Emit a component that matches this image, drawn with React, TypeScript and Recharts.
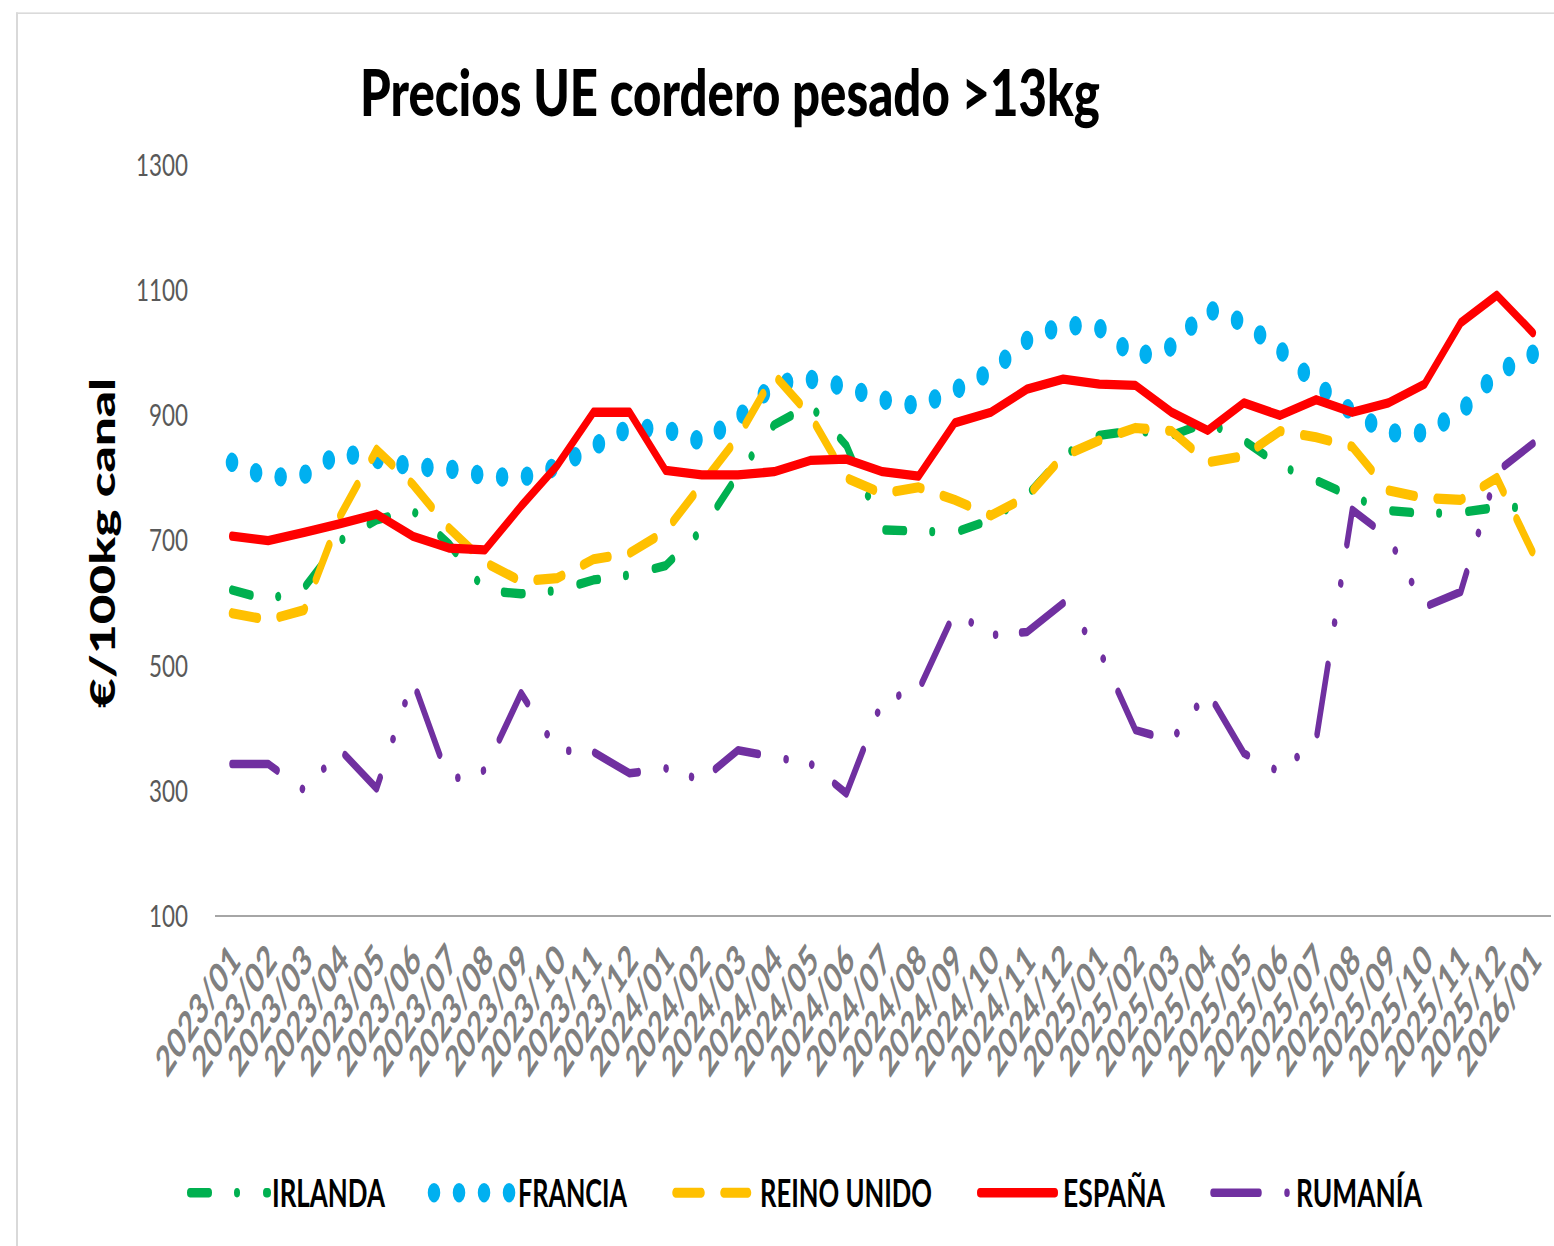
import React from 'react';
import { LineChart, Line, XAxis, YAxis } from 'recharts';

const MONTHS = [
  '2023/01', '2023/02', '2023/03', '2023/04', '2023/05', '2023/06', '2023/07', '2023/08', '2023/09', '2023/10', '2023/11', '2023/12',
  '2024/01', '2024/02', '2024/03', '2024/04', '2024/05', '2024/06', '2024/07', '2024/08', '2024/09', '2024/10', '2024/11', '2024/12',
  '2025/01', '2025/02', '2025/03', '2025/04', '2025/05', '2025/06', '2025/07', '2025/08', '2025/09', '2025/10', '2025/11', '2025/12',
  '2026/01',
];

const IRLANDA = [621, 605, 625, 700, 733, 748, 695, 620, 615, 620, 637, 645, 660, 717, 805, 885, 916, 852, 717, 715, 713, 733, 772, 836, 868, 876, 868, 889, 860, 820, 796, 770, 748, 743, 745, 753, 753];
const FRANCIA = [825, 800, 805, 840, 830, 818, 815, 803, 800, 818, 850, 880, 878, 858, 895, 950, 958, 945, 925, 915, 940, 970, 1020, 1045, 1040, 993, 1010, 1070, 1048, 1005, 950, 905, 872, 872, 905, 968, 998];
const REINO_UNIDO = [584, 573, 589, 740, 845, 790, 720, 665, 635, 640, 670, 680, 715, 790, 865, 965, 900, 800, 775, 785, 765, 740, 770, 835, 860, 880, 875, 825, 835, 875, 865, 850, 780, 768, 765, 800, 680];
const ESPANA = [707, 700, 713, 727, 742, 707, 688, 685, 755, 820, 905, 905, 812, 805, 805, 810, 828, 830, 810, 803, 888, 905, 942, 958, 950, 948, 905, 876, 920, 900, 925, 905, 920, 950, 1048, 1092, 1032];
const RUMANIA = [343, 343, 301, 365, 304, 477, 317, 333, 456, 365, 362, 328, 336, 317, 365, 354, 344, 296, 445, 461, 586, 549, 554, 600, 525, 397, 381, 458, 360, 330, 381, 749, 705, 594, 618, 810, 855];

const Y_TICKS = [100, 300, 500, 700, 900, 1100, 1300];

const TITLE = 'Precios UE cordero pesado >13kg';
const Y_LABEL = '€/100kg canal';

const SERIES = [
  { key: 'irlanda', name: 'IRLANDA', values: IRLANDA, color: '#00B050', width: 6, dash: '19 28 0.01 29' },
  { key: 'francia', name: 'FRANCIA', values: FRANCIA, color: '#00B0F0', width: 12.5, dash: '0.01 25' },
  { key: 'reino', name: 'REINO UNIDO', values: REINO_UNIDO, color: '#FFC000', width: 6.5, dash: '26 22' },
  { key: 'espana', name: 'ESPAÑA', values: ESPANA, color: '#FF0000', width: 6, dash: undefined as string | undefined },
  { key: 'rumania', name: 'RUMANÍA', values: RUMANIA, color: '#7030A0', width: 5.5, dash: '46 28 0.01 26 0.01 26' },
];

// legend layout (x positions in px): sample start, sample end, text start, text length
const LEGEND_LAYOUT = [
  { x1: 190, x2: 268, tx: 272, tl: 113 },
  { x1: 434, x2: 512, tx: 518, tl: 109 },
  { x1: 675.5, x2: 748, tx: 760, tl: 172 },
  { x1: 980, x2: 1055, tx: 1063, tl: 102 },
  { x1: 1213, x2: 1292, tx: 1296, tl: 126 },
];

const data = MONTHS.map((m, i) => {
  const row: Record<string, string | number> = { month: m };
  SERIES.forEach((s) => {
    row[s.key] = s.values[i];
  });
  return row;
});

const S = 1.55; // vertical stretch
const W = 1554;
const H = 1246 / S;
const FONT = 'Lato, "Open Sans", sans-serif';

const XTick = (props: any) => {
  const { x, y, payload } = props;
  return (
    <g transform={`translate(${x + 10},${y + 22})`}>
      <text
        transform="rotate(-45)"
        textAnchor="end"
        fontFamily={FONT}
        fontWeight={700}
        fontSize={27}
        fill="#808080"
        textLength={106}
        lengthAdjust="spacingAndGlyphs"
      >
        {payload.value}
      </text>
    </g>
  );
};

const YTick = (props: any) => {
  const { y, payload } = props;
  const s = String(payload.value);
  return (
    <text
      x={188}
      y={y}
      dy={7}
      textAnchor="end"
      fontFamily={FONT}
      fontSize={20}
      fill="#595959"
      textLength={s.length * 13}
      lengthAdjust="spacingAndGlyphs"
    >
      {s}
    </text>
  );
};

export default function App() {
  return (
    <div style={{ position: 'absolute', left: 0, top: 0, width: W, height: 1246, overflow: 'hidden', background: '#fff' }}>
      <div
        style={{
          position: 'absolute',
          left: 0,
          top: 0,
          width: W,
          height: H,
          transform: `scale(1, ${S})`,
          transformOrigin: '0 0',
        }}
      >
        <div
          style={{
            position: 'absolute',
            left: 16,
            top: 8.4,
            width: W - 16,
            height: H,
            borderTop: '1.4px solid #d9d9d9',
            borderLeft: '2px solid #d9d9d9',
            boxSizing: 'border-box',
          }}
        />
        <div style={{ position: 'absolute', left: 0, top: 0 }}>
          <LineChart width={W} height={H} data={data} margin={{ top: 106.5, right: 3, left: 0, bottom: H - 591 - 60 }}>
            <XAxis
              dataKey="month"
              interval={0}
              tickLine={false}
              axisLine={{ stroke: '#a6a6a6', strokeWidth: 1.3 }}
              padding={{ left: 17, right: 18 }}
              height={60}
              tick={(p: any) => <XTick {...p} />}
            />
            <YAxis
              type="number"
              domain={[100, 1300]}
              ticks={Y_TICKS}
              width={215}
              axisLine={false}
              tickLine={false}
              tick={(p: any) => <YTick {...p} />}
            />
            {SERIES.map((s) => (
              <Line
                key={s.key}
                type="linear"
                dataKey={s.key}
                name={s.name}
                stroke={s.color}
                strokeWidth={s.width}
                strokeDasharray={s.dash}
                strokeLinecap="round"
                strokeLinejoin="round"
                dot={false}
                activeDot={false}
                isAnimationActive={false}
              />
            ))}
          </LineChart>
        </div>
        <svg
          width={W}
          height={H}
          style={{ position: 'absolute', left: 0, top: 0, pointerEvents: 'none' }}
        >
          <text
            x={360}
            y={74.8}
            fontFamily={FONT}
            fontWeight={900}
            fontSize={42}
            fill="#000"
            textLength={740}
            lengthAdjust="spacingAndGlyphs"
          >
            {TITLE}
          </text>
          <text
            transform={`translate(115, 350.3) rotate(-90)`}
            textAnchor="middle"
            fontFamily={FONT}
            fontWeight={900}
            fontSize={34}
            fill="#000"
            textLength={213}
            lengthAdjust="spacingAndGlyphs"
          >
            {Y_LABEL}
          </text>
          {SERIES.map((s, i) => {
            const l = LEGEND_LAYOUT[i];
            return (
              <g key={s.key}>
                <line
                  x1={l.x1}
                  x2={l.x2}
                  y1={769.5}
                  y2={769.5}
                  stroke={s.color}
                  strokeWidth={s.width}
                  strokeDasharray={s.dash}
                  strokeLinecap="round"
                />
                <text
                  x={l.tx}
                  y={778.6}
                  fontFamily={FONT}
                  fontWeight={700}
                  fontSize={24}
                  fill="#000"
                  textLength={l.tl}
                  lengthAdjust="spacingAndGlyphs"
                >
                  {s.name}
                </text>
              </g>
            );
          })}
        </svg>
      </div>
    </div>
  );
}
